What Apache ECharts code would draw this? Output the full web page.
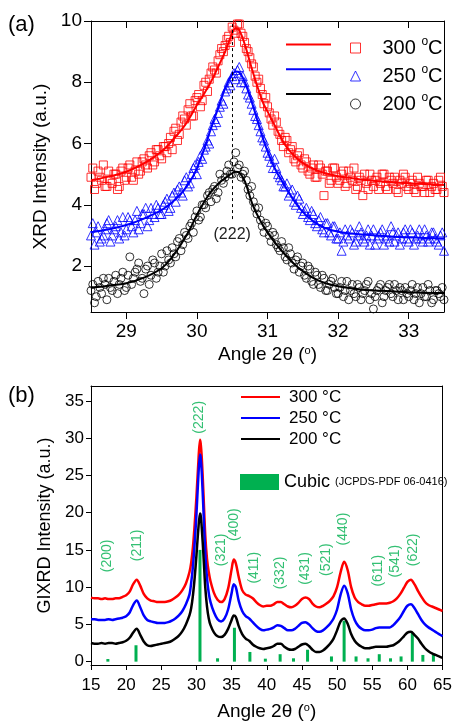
<!DOCTYPE html>
<html>
<head>
<meta charset="utf-8">
<script src="https://cdn.jsdelivr.net/npm/echarts@6.0.0/dist/echarts.min.js"></script>
<style>
  html, body { margin: 0; padding: 0; background: #fff; }
  #chart { width: 455px; height: 722px; }
</style>
</head>
<body>
<div id="chart"></div>
<script>
// ---- panel (a): XRD around the (222) reflection ----
// measured points, two interleaved sampling grids
var sx = [
  28.50, 28.55, 28.60, 28.65, 28.70, 28.75, 28.80, 28.85, 28.90, 28.95,
  29.00, 29.05, 29.10, 29.15, 29.20, 29.25, 29.30, 29.35, 29.40, 29.45,
  29.50, 29.55, 29.60, 29.65, 29.70, 29.75, 29.80, 29.85, 29.90, 29.95,
  30.00, 30.05, 30.10, 30.15, 30.20, 30.25, 30.30, 30.35, 30.40, 30.45,
  30.50, 30.55, 30.60, 30.65, 30.70, 30.75, 30.80, 30.85, 30.90, 30.95,
  31.00, 31.05, 31.10, 31.15, 31.20, 31.25, 31.30, 31.35, 31.40, 31.45,
  31.50, 31.55, 31.60, 31.65, 31.70, 31.75, 31.80, 31.85, 31.90, 31.95,
  32.00, 32.05, 32.10, 32.15, 32.20, 32.25, 32.30, 32.35, 32.40, 32.45,
  32.50, 32.55, 32.60, 32.65, 32.70, 32.75, 32.80, 32.85, 32.90, 32.95,
  33.00, 33.05, 33.10, 33.15, 33.20, 33.25, 33.30, 33.35, 33.40, 33.45,
  33.50
];
var sx2 = [
  28.525, 28.575, 28.625, 28.675, 28.725, 28.775, 28.825, 28.875, 28.925, 28.975,
  29.025, 29.075, 29.125, 29.175, 29.225, 29.275, 29.325, 29.375, 29.425, 29.475,
  29.525, 29.575, 29.625, 29.675, 29.725, 29.775, 29.825, 29.875, 29.925, 29.975,
  30.025, 30.075, 30.125, 30.175, 30.225, 30.275, 30.325, 30.375, 30.425, 30.475,
  30.525, 30.575, 30.625, 30.675, 30.725, 30.775, 30.825, 30.875, 30.925, 30.975,
  31.025, 31.075, 31.125, 31.175, 31.225, 31.275, 31.325, 31.375, 31.425, 31.475,
  31.525, 31.575, 31.625, 31.675, 31.725, 31.775, 31.825, 31.875, 31.925, 31.975,
  32.025, 32.075, 32.125, 32.175, 32.225, 32.275, 32.325, 32.375, 32.425, 32.475,
  32.525, 32.575, 32.625, 32.675, 32.725, 32.775, 32.825, 32.875, 32.925, 32.975,
  33.025, 33.075, 33.125, 33.175, 33.225, 33.275, 33.325, 33.375, 33.425, 33.475
];
var pts300 = [
  4.9, 4.5, 5.1, 4.8, 4.6, 5.1, 4.7, 5.0, 4.6, 5.2,
  4.9, 5.3, 4.8, 5.4, 5.1, 5.5, 5.2, 5.7, 5.4, 5.8,
  5.5, 5.9, 6.0, 5.8, 6.5, 6.3, 6.9, 6.6, 7.3, 6.9,
  7.5, 7.2, 7.9, 7.7, 8.3, 8.4, 8.7, 9.1, 9.2, 9.5,
  9.8, 9.6, 9.9, 9.5, 9.1, 8.8, 8.5, 8.0, 7.8, 7.3,
  7.2, 6.8, 6.9, 6.4, 6.1, 6.2, 5.7, 5.9, 5.4, 5.7,
  5.2, 5.4, 5.0, 5.3, 4.9, 5.2, 4.3, 5.1, 4.8, 5.2,
  4.7, 5.0, 4.6, 5.1, 4.8, 4.5, 4.9, 4.3, 4.7, 5.0,
  4.6, 4.9, 4.7, 5.0, 4.5, 4.8, 4.9, 4.4, 4.7, 4.9,
  4.5, 4.8, 4.4, 4.7, 4.6, 4.8, 4.4, 4.7, 4.5, 4.9,
  4.4
];
var pts300b = [
  5.2, 4.7, 4.9, 5.3, 4.6, 4.8, 5.0, 4.5, 5.1, 4.8,
  5.2, 4.9, 5.1, 5.0, 5.4, 5.3, 5.6, 5.3, 5.8, 5.6,
  5.9, 5.7, 6.2, 6.4, 6.1, 6.7, 6.8, 7.1, 6.9, 7.4,
  7.6, 7.4, 8.0, 8.1, 8.5, 8.3, 8.9, 9.0, 9.4, 9.3,
  9.7, 9.9, 9.6, 9.3, 9.0, 8.6, 8.2, 8.1, 7.6, 7.5,
  7.0, 6.6, 6.7, 6.3, 5.9, 6.1, 5.8, 5.5, 5.6, 5.3,
  5.5, 5.1, 5.2, 4.9, 5.3, 5.0, 5.1, 4.7, 5.2, 4.9,
  4.8, 5.1, 4.7, 4.9, 5.2, 4.6, 4.8, 5.0, 4.5, 4.8,
  4.8, 4.5, 5.0, 4.6, 4.9, 4.7, 4.5, 4.8, 5.0, 4.6,
  4.7, 4.5, 4.9, 4.6, 4.4, 4.8, 4.6, 4.5, 4.8, 4.6
];
var pts250 = [
  3.0, 2.7, 3.3, 2.9, 3.2, 3.5, 3.0, 3.3, 2.9, 3.6,
  3.2, 3.5, 3.1, 3.8, 3.4, 3.7, 3.3, 3.9, 3.6, 3.9,
  3.7, 4.1, 3.8, 4.3, 4.1, 4.6, 4.3, 4.9, 4.7, 5.2,
  5.0, 5.6, 5.8, 6.1, 6.4, 6.8, 7.0, 7.4, 7.7, 8.0,
  8.2, 8.1, 8.5, 8.2, 7.8, 7.5, 7.1, 6.8, 6.4, 6.1,
  5.7, 5.4, 5.5, 5.0, 4.8, 4.6, 4.3, 4.5, 4.0, 4.2,
  3.7, 3.9, 3.5, 3.7, 3.3, 3.6, 3.1, 3.4, 3.0, 3.3,
  2.9, 2.5, 3.2, 2.9, 3.1, 2.8, 3.3, 2.9, 3.0, 2.7,
  3.2, 2.9, 3.1, 2.7, 3.0, 3.3, 2.8, 3.1, 2.9, 3.2,
  2.8, 3.1, 2.9, 3.2, 2.8, 3.0, 2.9, 3.1, 2.8, 3.0,
  2.5
];
var pts250b = [
  3.4, 3.1, 2.8, 3.0, 3.4, 2.8, 3.2, 3.5, 3.1, 3.0,
  3.6, 3.3, 3.5, 3.2, 3.7, 3.9, 3.5, 3.7, 4.0, 3.7,
  4.0, 4.2, 3.9, 4.4, 4.5, 4.4, 4.8, 4.6, 5.0, 5.3,
  5.4, 5.5, 5.9, 6.0, 6.6, 6.7, 7.2, 7.3, 7.8, 7.9,
  8.3, 8.4, 8.0, 8.0, 7.6, 7.3, 6.9, 6.6, 6.2, 5.9,
  5.6, 5.2, 5.2, 4.9, 4.6, 4.7, 4.4, 4.1, 4.3, 3.9,
  3.8, 3.6, 3.8, 3.4, 3.5, 3.2, 3.4, 3.1, 3.3, 2.9,
  3.1, 2.8, 3.0, 3.2, 2.7, 3.0, 3.1, 2.8, 3.2, 3.0,
  2.7, 3.0, 3.2, 2.9, 2.8, 3.1, 3.0, 2.7, 3.1, 2.9,
  3.2, 2.7, 3.0, 2.9, 3.2, 2.8, 3.1, 2.9, 2.7, 3.1
];
var pts200 = [
  1.2, 0.8, 1.5, 1.1, 1.4, 1.6, 1.2, 1.7, 1.4, 1.8,
  1.3, 2.3, 1.6, 1.9, 1.5, 1.1, 2.0, 1.7, 2.1, 1.8,
  2.4, 2.0, 2.2, 2.6, 2.3, 2.9, 2.7, 3.0, 3.3, 3.1,
  3.8, 3.6, 4.0, 4.3, 4.1, 4.6, 4.4, 4.8, 4.9, 5.3,
  5.0, 5.7, 5.3, 5.0, 4.8, 4.3, 4.1, 3.7, 3.5, 3.1,
  3.3, 2.8, 3.0, 2.6, 2.8, 2.3, 2.6, 2.1, 2.2, 1.8,
  2.1, 1.6, 1.9, 1.4, 1.7, 1.3, 1.6, 1.2, 1.5, 1.3,
  1.1, 1.5, 1.2, 0.9, 1.4, 1.0, 1.3, 1.1, 1.4, 0.9,
  0.6, 1.2, 1.4, 1.0, 1.3, 1.1, 1.4, 0.9, 1.2, 1.3,
  1.0, 1.4, 1.1, 0.8, 1.3, 1.0, 1.2, 0.9, 1.2, 1.0,
  0.9
];
var pts200b = [
  1.4, 1.0, 1.3, 1.6, 0.9, 1.3, 1.5, 1.1, 1.6, 1.2,
  1.7, 1.4, 1.8, 2.1, 1.6, 1.9, 1.4, 2.2, 1.6, 2.0,
  1.8, 2.5, 2.1, 2.4, 2.8, 2.5, 3.1, 2.9, 3.4, 3.6,
  3.5, 4.0, 3.9, 4.4, 4.5, 4.2, 5.0, 4.7, 5.1, 5.0,
  5.4, 5.2, 4.9, 5.1, 4.5, 4.6, 3.9, 3.9, 3.3, 3.4,
  3.0, 3.1, 2.7, 2.5, 2.6, 2.2, 2.4, 1.9, 2.3, 2.0,
  1.7, 2.0, 1.5, 1.8, 1.4, 1.7, 1.2, 1.4, 1.6, 1.1,
  1.3, 1.0, 1.5, 1.2, 1.1, 1.4, 0.9, 1.2, 1.5, 1.1,
  1.0, 1.3, 0.8, 1.2, 1.4, 1.0, 1.2, 1.3, 0.9, 1.1,
  1.2, 0.9, 1.3, 1.1, 1.0, 1.4, 0.8, 1.2, 1.1, 1.3
];
// fitted curves
var fitX = [28.5, 28.75, 29.0, 29.25, 29.5, 29.65, 29.8, 29.9, 30.0, 30.1, 30.2, 30.3, 30.4, 30.5, 30.55, 30.6,
  30.68, 30.79, 30.93, 31.0, 31.1, 31.25, 31.4, 31.54, 31.7, 31.82, 32.0, 32.2, 32.39, 32.8, 33.1, 33.5];
var fit300 = [4.80, 4.92, 5.08, 5.35, 5.74, 6.10, 6.50, 6.85, 7.26, 7.62, 8.02, 8.50, 9.00, 9.60, 9.76, 9.70,
  9.22, 8.35, 7.37, 7.05, 6.60, 5.95, 5.55, 5.30, 5.12, 5.03, 4.93, 4.87, 4.81, 4.73, 4.69, 4.65];
var fit250 = [3.10, 3.20, 3.34, 3.55, 3.83, 4.08, 4.43, 4.75, 5.19, 5.80, 6.50, 7.15, 7.80, 8.25, 8.35, 8.32,
  8.00, 7.26, 6.20, 5.75, 5.20, 4.60, 4.05, 3.67, 3.38, 3.24, 3.12, 3.06, 3.02, 2.96, 2.93, 2.90];
var fit200 = [1.30, 1.36, 1.44, 1.62, 1.93, 2.30, 2.80, 3.20, 3.67, 4.08, 4.43, 4.68, 4.87, 5.03, 5.08, 5.05,
  4.76, 4.00, 3.35, 3.10, 2.78, 2.37, 2.02, 1.77, 1.55, 1.44, 1.34, 1.27, 1.22, 1.17, 1.14, 1.12];
var xTicksA = [29, 30, 31, 32, 33];
var yTicksA = [2, 4, 6, 8, 10];

// ---- panel (b): GIXRD patterns ----
var gx = [
  15, 15.5, 16, 16.5, 17, 17.5, 18, 18.5, 19, 19.5,
  20, 20.5, 21, 21.5, 22, 22.5, 23, 23.5, 24, 24.5,
  25, 25.5, 26, 26.5, 27, 27.5, 28, 28.5, 29, 29.25,
  29.5, 29.75, 30, 30.25, 30.5, 30.6, 30.75, 31, 31.25, 31.5,
  31.75, 32, 32.5, 33, 33.5, 34, 34.5, 35, 35.3, 35.6,
  36, 36.5, 37, 37.5, 38, 38.5, 39, 39.5, 40, 40.5,
  41, 41.5, 42, 42.5, 43, 43.5, 44, 44.5, 45, 45.5,
  46, 46.5, 47, 47.5, 48, 48.5, 49, 49.5, 50, 50.5,
  51, 51.5, 52, 52.5, 53, 53.5, 54, 54.5, 55, 55.5,
  56, 56.5, 57, 57.5, 58, 58.5, 59, 59.5, 60, 60.5,
  61, 61.5, 62, 62.5, 63, 63.5, 64, 64.5, 65
];
var gi300 = [
  8.6, 8.5, 8.5, 8.4, 8.5, 8.4, 8.4, 8.5, 8.5, 8.7,
  8.9, 9.4, 10.4, 11.0, 10.2, 9.1, 8.5, 8.2, 8.1, 8.0,
  8.0, 8.0, 8.1, 8.3, 8.6, 9.0, 9.6, 10.5, 12.0, 13.3,
  15.4, 18.5, 22.2, 26.5, 29.8, 29.3, 27.5, 22.5, 17.0, 13.8,
  12.0, 10.8, 9.2, 8.3, 8.0, 8.4, 9.8, 12.4, 13.7, 13.2,
  11.4, 9.6, 9.0, 8.8, 8.5, 8.0, 7.6, 7.4, 7.5, 7.5,
  7.7, 8.0, 8.0, 7.7, 7.4, 7.3, 7.5, 7.9, 8.4, 8.6,
  8.4, 7.8, 7.4, 7.3, 7.5, 7.8, 8.2, 8.8, 10.0, 12.0,
  13.4, 12.3, 10.0, 8.6, 8.0, 7.7, 7.5, 7.5, 7.6, 7.7,
  7.8, 7.8, 7.8, 7.9, 8.1, 8.5, 9.1, 9.9, 10.7, 11.0,
  10.4, 9.5, 8.7, 8.0, 7.6, 7.4, 7.2, 7.0, 6.8
];
var gi250 = [
  5.7, 5.7, 5.6, 5.6, 5.6, 5.7, 5.6, 5.7, 5.8, 5.9,
  6.1, 6.6, 7.6, 8.2, 7.3, 6.2, 5.6, 5.4, 5.3, 5.2,
  5.2, 5.2, 5.3, 5.5, 5.8, 6.2, 6.8, 7.7, 9.0, 10.6,
  12.8, 16.0, 19.8, 24.5, 27.8, 27.4, 25.4, 20.2, 14.6, 11.2,
  9.2, 8.0, 6.6, 5.7, 5.4, 5.8, 7.0, 9.2, 10.4, 10.0,
  8.2, 6.8, 6.1, 5.8, 5.3, 4.8, 4.4, 4.2, 4.3, 4.4,
  4.6, 4.9, 4.8, 4.5, 4.2, 4.2, 4.4, 4.8, 5.2, 5.3,
  5.0, 4.5, 4.1, 4.0, 4.2, 4.6, 5.1, 5.8, 7.0, 9.0,
  10.2, 9.2, 7.0, 5.6, 4.8, 4.4, 4.2, 4.2, 4.3, 4.5,
  4.6, 4.6, 4.6, 4.6, 4.9, 5.4, 6.0, 6.8, 7.5, 7.7,
  7.2, 6.4, 5.6, 5.0, 4.6, 4.3, 4.0, 3.7, 3.4
];
var gi200 = [
  2.5, 2.4, 2.4, 2.5, 2.4, 2.5, 2.5, 2.4, 2.5, 2.6,
  2.8, 3.2, 3.9, 4.4, 3.6, 2.7, 2.2, 2.1, 2.2, 2.3,
  2.4, 2.5, 2.6, 2.8, 3.1, 3.5, 4.1, 5.0, 6.2, 7.2,
  8.9, 11.3, 14.3, 17.6, 19.9, 19.6, 18.0, 14.2, 10.0, 7.4,
  5.8, 4.9, 3.9, 3.4, 3.3, 3.6, 4.4, 5.6, 6.2, 6.0,
  4.8, 3.7, 3.1, 2.8, 2.3, 2.0, 1.8, 1.7, 1.8, 1.9,
  2.1, 2.4, 2.4, 2.0, 1.7, 1.6, 1.7, 2.0, 2.3, 2.4,
  2.1, 1.6, 1.3, 1.3, 1.5, 1.9, 2.4, 3.1, 4.2, 5.4,
  5.8, 5.1, 3.7, 2.8, 2.3, 2.0, 1.8, 1.8, 1.9, 2.0,
  2.0, 2.0, 2.0, 2.1, 2.2, 2.5, 2.9, 3.4, 3.9, 4.0,
  3.6, 3.1, 2.4, 1.8, 1.4, 1.1, 0.9, 0.7, 0.5
];
// JCPDS 06-0416 reference lines
var refX = [17.4, 21.4, 30.5, 33.0, 35.4, 37.6, 39.8, 41.9, 43.8, 45.8, 49.2, 51.0, 52.7, 54.4, 56.0, 57.6, 59.1, 60.7, 62.2, 63.7];
var refH = [0.35, 2.2, 15.0, 0.45, 4.55, 1.3, 0.4, 1.0, 0.45, 1.6, 0.7, 5.5, 0.7, 0.45, 1.0, 0.45, 0.7, 3.85, 0.9, 0.9];
var hkl = ['(200)', '(211)', '(222)', '(321)', '(400)', '(411)', '(332)', '(431)', '(521)', '(440)', '(611)', '(541)', '(622)'];
var hklX = [17.3, 21.5, 30.45, 33.5, 35.4, 38.2, 41.9, 45.5, 48.5, 50.8, 55.8, 58.3, 60.8];
var hklY = [14.2, 15.6, 32.8, 15.0, 18.4, 12.6, 11.9, 12.5, 13.7, 17.8, 12.2, 13.5, 15.0];
var yTicksB = [0, 5, 10, 15, 20, 25, 30, 35];

var RED = "#ff0000", BLUE = "#0000ff", BLACK = "#000000", GREEN = "#00b050";
var FONT = "Liberation Sans";

function zip(xs, ys) {
  return xs.map(function (x, i) { return [x, ys[i]]; });
}

var chart = echarts.init(document.getElementById("chart"));

function frameAxis(grid, pos, extra) {
  var a = {
    gridIndex: grid,
    type: "value",
    position: pos,
    axisLine: { show: true, onZero: false, lineStyle: { color: "#000", width: 1 } },
    axisTick: { show: false },
    axisLabel: { show: false },
    splitLine: { show: false }
  };
  return Object.assign(a, extra || {});
}

var supRich = { sup: { fontSize: 11, verticalAlign: "top", lineHeight: 12, fontFamily: FONT, color: "#000" } };
var hideSym = { opacity: 0 };

chart.setOption({
  backgroundColor: "#fff",
  animation: false,
  textStyle: { fontFamily: FONT },
  grid: [
    { left: 91, right: 11, top: 21, height: 291 },
    { left: 91, right: 11, top: 386, height: 282 }
  ],
  xAxis: [
    frameAxis(0, "bottom", {
      min: 28.5, max: 33.5,
      axisTick: { show: true, length: 7, lineStyle: { color: "#000" }, customValues: xTicksA },
      axisLabel: { show: true, fontSize: 19, color: "#000", margin: 10, customValues: xTicksA },
      name: "Angle 2θ ({sup|o})", nameLocation: "middle", nameGap: 33,
      nameTextStyle: { fontSize: 19, color: "#000", rich: supRich }
    }),
    frameAxis(0, "top", {
      min: 28.5, max: 33.5,
      axisTick: { show: true, inside: true, length: 7, lineStyle: { color: "#000" }, customValues: xTicksA }
    }),
    frameAxis(1, "bottom", {
      min: 15, max: 65, interval: 5,
      axisTick: { show: true, length: 5, lineStyle: { color: "#000" } },
      axisLabel: { show: true, fontSize: 17, color: "#000", margin: 12 },
      name: "Angle 2θ ({sup|o})", nameLocation: "middle", nameGap: 37,
      nameTextStyle: { fontSize: 19, color: "#000", rich: supRich }
    }),
    frameAxis(1, "top", { min: 15, max: 65 })
  ],
  yAxis: [
    frameAxis(0, "left", {
      min: 0.5, max: 10,
      axisTick: { show: true, length: 7, lineStyle: { color: "#000" }, customValues: yTicksA },
      axisLabel: { show: true, fontSize: 19, color: "#000", margin: 9, customValues: yTicksA },
      name: "XRD Intensity (a.u.)", nameLocation: "middle", nameGap: 28,
      nameTextStyle: { fontSize: 19, color: "#000" }
    }),
    frameAxis(0, "right", { min: 0.5, max: 10 }),
    frameAxis(1, "left", {
      min: -0.45, max: 37,
      axisTick: { show: true, length: 5, lineStyle: { color: "#000" }, customValues: yTicksB },
      axisLabel: { show: true, fontSize: 17, color: "#000", margin: 7, customValues: yTicksB },
      name: "GIXRD Intensity (a.u.)", nameLocation: "middle", nameGap: 33,
      nameTextStyle: { fontSize: 18, color: "#000" }
    }),
    frameAxis(1, "right", { min: -0.45, max: 37 })
  ],
  legend: [
    {
      left: 285, top: 39, padding: 0, orient: "vertical", itemWidth: 45, itemHeight: 14, itemGap: 13.5,
      data: [
        { name: "300 fit", itemStyle: hideSym },
        { name: "250 fit", itemStyle: hideSym },
        { name: "200 fit", itemStyle: hideSym }
      ],
      formatter: function () { return ""; },
      textStyle: { fontSize: 14, lineHeight: 14 },
      selectedMode: false
    },
    {
      left: 350, top: 36, padding: 0, orient: "vertical", itemWidth: 10, itemHeight: 10, itemGap: 4,
      data: [
        { name: "300 °C", icon: "rect", itemStyle: { color: "rgba(0,0,0,0)", borderColor: RED, borderWidth: 1 } },
        { name: "250 °C", icon: "triangle", itemStyle: { color: "rgba(0,0,0,0)", borderColor: BLUE, borderWidth: 1 } },
        { name: "200 °C", icon: "circle", itemStyle: { color: "rgba(0,0,0,0)", borderColor: BLACK, borderWidth: 1 } }
      ],
      formatter: function (n) { return n.replace("°", "{sup|o}"); },
      textStyle: { fontSize: 20, color: "#000", lineHeight: 24, padding: [0, 0, 0, 17], rich: { sup: { fontSize: 12, verticalAlign: "top", lineHeight: 12, color: "#000" } } },
      selectedMode: false
    },
    {
      left: 240, top: 388, padding: 0, orient: "vertical", itemWidth: 39, itemHeight: 14, itemGap: 3,
      data: [
        { name: "300 °C ", itemStyle: hideSym },
        { name: "250 °C ", itemStyle: hideSym },
        { name: "200 °C ", itemStyle: hideSym }
      ],
      textStyle: { fontSize: 17, lineHeight: 18, color: "#000", padding: [0, 0, 0, 4] },
      selectedMode: false
    },
    {
      left: 240, top: 473, padding: 0, itemWidth: 39, itemHeight: 16,
      data: [{ name: "Cubic", icon: "rect" }],
      formatter: function (n) { return n + " {s|(JCPDS-PDF 06-0416)}"; },
      textStyle: { fontSize: 18, color: "#000", rich: { s: { fontSize: 11, color: "#000" } } },
      selectedMode: false
    }
  ],
  graphic: [
    { type: "text", left: 8, top: 14, style: { text: "(a)", font: "22px Liberation Sans", fill: "#000" } },
    { type: "text", left: 8, top: 385, style: { text: "(b)", font: "22px Liberation Sans", fill: "#000" } }
  ],
  series: [
    // panel (a) measured points
    {
      name: "300 °C", type: "scatter", xAxisIndex: 0, yAxisIndex: 0,
      symbol: "rect", symbolSize: 8, data: zip(sx, pts300).concat(zip(sx2, pts300b)),
      itemStyle: { color: "rgba(0,0,0,0)", borderColor: RED, borderWidth: 1 }
    },
    {
      name: "250 °C", type: "scatter", xAxisIndex: 0, yAxisIndex: 0,
      symbol: "triangle", symbolSize: 9, data: zip(sx, pts250).concat(zip(sx2, pts250b)),
      itemStyle: { color: "rgba(0,0,0,0)", borderColor: BLUE, borderWidth: 1 }
    },
    {
      name: "200 °C", type: "scatter", xAxisIndex: 0, yAxisIndex: 0,
      symbol: "circle", symbolSize: 8, data: zip(sx, pts200).concat(zip(sx2, pts200b)),
      itemStyle: { color: "rgba(0,0,0,0)", borderColor: BLACK, borderWidth: 1 }
    },
    // panel (a) fits
    {
      name: "300 fit", type: "line", xAxisIndex: 0, yAxisIndex: 0, smooth: 0.4, showSymbol: false, symbol: "none",
      data: zip(fitX, fit300), lineStyle: { color: RED, width: 2 }, itemStyle: { color: RED }
    },
    {
      name: "250 fit", type: "line", xAxisIndex: 0, yAxisIndex: 0, smooth: 0.4, showSymbol: false, symbol: "none",
      data: zip(fitX, fit250), lineStyle: { color: BLUE, width: 2 }, itemStyle: { color: BLUE }
    },
    {
      name: "200 fit", type: "line", xAxisIndex: 0, yAxisIndex: 0, smooth: 0.4, showSymbol: false, symbol: "none",
      data: zip(fitX, fit200), lineStyle: { color: BLACK, width: 2 }, itemStyle: { color: BLACK },
      markLine: {
        silent: true, symbol: "none",
        lineStyle: { color: "#000", type: [3, 3], width: 1 },
        label: { show: true, position: "end", formatter: "(222)", fontSize: 16, color: "#222", fontFamily: FONT },
        data: [[{ coord: [30.5, 9.9] }, { coord: [30.5, 3.45] }]]
      }
    },
    // panel (b)
    {
      name: "Cubic", type: "bar", xAxisIndex: 2, yAxisIndex: 2, barWidth: 3,
      data: zip(refX, refH), itemStyle: { color: GREEN }, z: 1
    },
    {
      name: "300 °C ", type: "line", xAxisIndex: 2, yAxisIndex: 2, smooth: 0.3, showSymbol: false, symbol: "none",
      data: zip(gx, gi300), lineStyle: { color: RED, width: 2.5 }, itemStyle: { color: RED }, z: 3
    },
    {
      name: "250 °C ", type: "line", xAxisIndex: 2, yAxisIndex: 2, smooth: 0.3, showSymbol: false, symbol: "none",
      data: zip(gx, gi250), lineStyle: { color: BLUE, width: 2.5 }, itemStyle: { color: BLUE }, z: 3
    },
    {
      name: "200 °C ", type: "line", xAxisIndex: 2, yAxisIndex: 2, smooth: 0.3, showSymbol: false, symbol: "none",
      data: zip(gx, gi200), lineStyle: { color: BLACK, width: 2.5 }, itemStyle: { color: BLACK }, z: 3
    },
    {
      name: "hkl", type: "scatter", xAxisIndex: 2, yAxisIndex: 2, symbolSize: 1,
      data: hklX.map(function (x, i) { return { value: [x, hklY[i]], name: hkl[i] }; }),
      itemStyle: { color: "rgba(0,0,0,0)" },
      label: { show: true, position: "inside", rotate: 90, formatter: "{b}", fontSize: 14, color: GREEN, fontFamily: FONT },
      silent: true
    }
  ]
});
</script>
</body>
</html>
